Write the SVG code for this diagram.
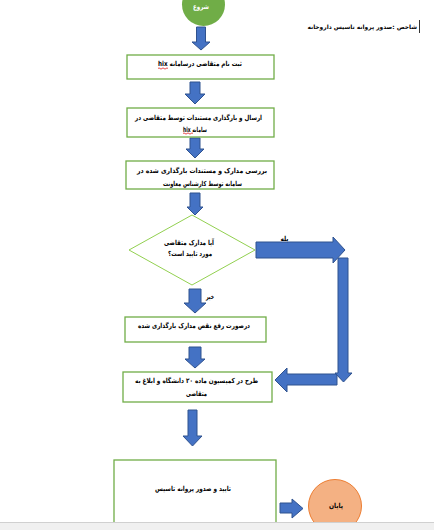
<svg xmlns="http://www.w3.org/2000/svg" width="434" height="530" viewBox="0 0 434 530">
<style>
.box{fill:#ffffff;stroke:#70ad47;stroke-width:1.3}
.dia{fill:#ffffff;stroke:#92d050;stroke-width:1}
.arr{fill:#4472c4;stroke:#2f528f;stroke-width:1}
.t{font-family:"DejaVu Sans",sans-serif;font-size:7px;font-weight:bold;fill:#000;direction:rtl;unicode-bidi:embed}
.h{font-family:"DejaVu Sans",sans-serif;font-size:5.9px;font-weight:bold;fill:#000}
.wave{fill:none;stroke:#e02020;stroke-width:0.8}
</style>
<rect x="0" y="0" width="434" height="530" fill="#ffffff"/>
<g id="title">
<text class="h" x="417" y="28.5" text-anchor="end">شاخص :صدور پروانه تاسیس داروخانه</text>
<line x1="419.5" y1="20" x2="419.5" y2="33" stroke="#000" stroke-width="0.8"/>
</g>
<g id="connectors">
<polygon class="arr" points="196.5,27 205.5,27 205.5,42 210,42 201,50 192,42 196.5,42"/>
<polygon class="arr" points="190,82 200,82 200,94 205,94 195,104 185,94 190,94"/>
<polygon class="arr" points="190,138 200,138 200,149 204,149 195,158 186,149 190,149"/>
<polygon class="arr" points="190,193 200,193 200,207 203,207 195,215 187,207 190,207"/>
<polygon class="arr" points="189,289 201,289 201,303 206,303 195,313 184,303 189,303"/>
<polygon class="arr" points="189,347 201,347 201,359 205,359 195,368 185,359 189,359"/>
<polygon class="arr" points="188,410 197,410 197,436 202,436 192.5,446 183,436 188,436"/>
<polygon class="arr" points="256,242 333,242 333,237 345,250 333,263 333,258 256,258"/>
<polygon class="arr" points="337,374 287,374 287,368 275,380 287,392 287,385 337,385"/>
<polygon class="arr" points="338,258 348,258 348,373 352,373 343.5,382 335,373 338,373"/>
<polygon class="arr" points="280,503 292,503 292,499 303,508.5 292,518 292,513 280,513"/>
<text class="t" x="284.5" y="240.5" text-anchor="middle" textLength="8" lengthAdjust="spacingAndGlyphs">بله</text>
<text class="t" x="210" y="298.5" text-anchor="middle" textLength="8" lengthAdjust="spacingAndGlyphs">خیر</text>
</g>
<g id="start">
<circle cx="203.5" cy="4.5" r="21.5" fill="#70ad47"/>
<text class="t" x="201" y="8.5" text-anchor="middle" textLength="16" lengthAdjust="spacingAndGlyphs" style="fill:#ffffff">شروع</text>
</g>
<g id="box1">
<rect class="box" x="127" y="55" width="147" height="24"/>
<text class="t" x="200" y="65.5" text-anchor="middle" textLength="84" lengthAdjust="spacingAndGlyphs">ثبت نام متقاضی درسامانه hix</text>
<path class="wave" d="M158,68.5 q1,-1.2 2,0 t2,0 t2,0 t2,0 t2,0"/>
</g>
<g id="box2">
<rect class="box" x="127" y="108" width="147" height="29"/>
<text class="t" x="198.5" y="119.5" text-anchor="middle" textLength="127" lengthAdjust="spacingAndGlyphs">ارسال و بارگذاری مستندات توسط متقاضی در</text>
<text class="t" x="195" y="131.5" text-anchor="middle" textLength="24" lengthAdjust="spacingAndGlyphs">سامانه hix</text>
<path class="wave" d="M183,133.5 q1,-1.2 2,0 t2,0 t2,0 t2,0 t2,0"/>
</g>
<g id="box3">
<rect class="box" x="126" y="161" width="148" height="28"/>
<text class="t" x="202" y="172.5" text-anchor="middle" textLength="130" lengthAdjust="spacingAndGlyphs">بررسی مدارک و مستندات بارگذاری شده در</text>
<text class="t" x="202.5" y="185.5" text-anchor="middle" textLength="79" lengthAdjust="spacingAndGlyphs">سامانه توسط کارشناس معاونت</text>
</g>
<g id="decision">
<polygon class="dia" points="192,215 255,250 192,285 129,250"/>
<text class="t" x="189" y="244.5" text-anchor="middle" textLength="50" lengthAdjust="spacingAndGlyphs">آیا مدارک متقاضی</text>
<text class="t" x="190" y="256" text-anchor="middle" textLength="44" lengthAdjust="spacingAndGlyphs">مورد تایید است؟</text>
</g>
<g id="box4">
<rect class="box" x="125" y="317" width="141" height="25"/>
<text class="t" x="194" y="327.5" text-anchor="middle" textLength="112" lengthAdjust="spacingAndGlyphs">درصورت رفع نقص مدارک بارگذاری شده</text>
</g>
<g id="box5">
<rect class="box" x="123" y="372" width="149" height="30"/>
<text class="t" x="196.5" y="382.5" text-anchor="middle" textLength="123" lengthAdjust="spacingAndGlyphs">طرح در کمیسیون ماده ۲۰ دانشگاه و ابلاغ به</text>
<text class="t" x="196.5" y="395.5" text-anchor="middle" textLength="21" lengthAdjust="spacingAndGlyphs">متقاضی</text>
</g>
<g id="box6">
<rect class="box" x="114" y="460" width="162" height="75"/>
<text class="t" x="193" y="490.5" text-anchor="middle" textLength="76" lengthAdjust="spacingAndGlyphs">تایید و صدور پروانه تاسیس</text>
</g>
<g id="end">
<circle cx="335" cy="506" r="26.5" fill="#f4b183" stroke="#ed7d31" stroke-width="1"/>
<text class="t" x="336" y="507.5" text-anchor="middle" textLength="14" lengthAdjust="spacingAndGlyphs">پایان</text>
</g>
<rect x="0" y="522" width="434" height="8" fill="#f0f0f0"/>
<line x1="0" y1="522.5" x2="434" y2="522.5" stroke="#d0d0d0" stroke-width="1"/>
</svg>
